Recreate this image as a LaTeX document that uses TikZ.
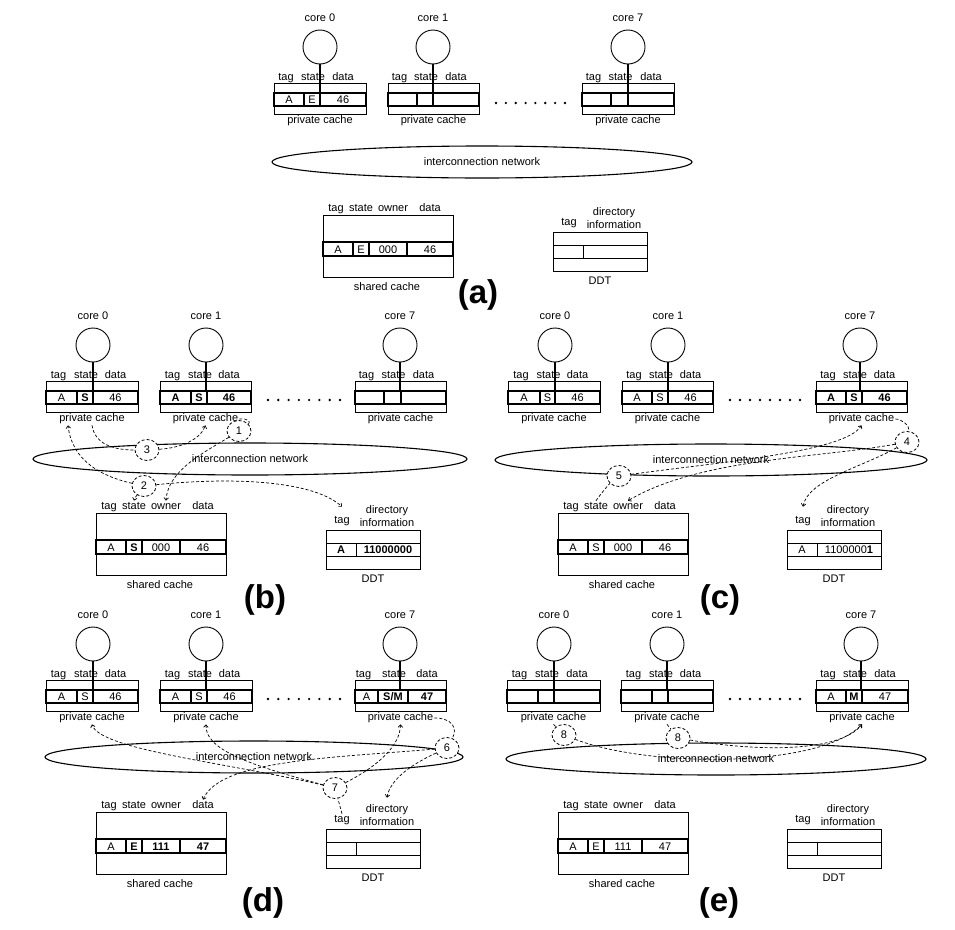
\documentclass[tikz,border=0pt]{standalone}
\usepackage{fontspec}
\setmainfont{Liberation Sans}
\usetikzlibrary{arrows.meta,shapes.geometric}
\newcommand\pcache[8]{%
 \node[lab] (#1c) at (#3,#4) {#2};
 \node[corec] (#1o) at (#3,#4+28) {};
 \draw[box] (#5,#4+64) rectangle (#6,#4+95);
 \draw[rowl] (#5,#4+74) rectangle (#6,#4+87);
 \draw[rowl] (#7,#4+74) -- (#7,#4+87) (#8,#4+74) -- (#8,#4+87);
 \node[lab] (#1t) at ({(#5+#7)/2-3},#4+59) {tag};
 \node[lab] (#1s) at ({(#7+#8)/2+1},#4+59) {state};
 \node[lab] (#1d) at ({(#8+#6)/2},#4+59) {data};
 \draw[corel] (#1o.south) -- (#3,#4+74);
 \node[lab] (#1pc) at ({(#5+#6)/2},#4+102) {private cache};
}
\newcommand\pcells[8]{%
 \node[cell] at ({(#1+#2)/2},#5) {#6};
 \node[cell] at ({(#2+#3)/2},#5) {#7};
 \node[cell] at ({(#3+#4)/2},#5) {#8};
}
\newcommand\scache[3]{%
 \node[lab] (#1stag) at (#2+13,#3+190) {tag};
 \node[lab] (#1state) at (#2+38,#3+190) {state};
 \node[lab] (#1owner) at (#2+70,#3+190) {owner};
 \node[lab] (#1data) at (#2+107,#3+190) {data};
 \draw[box] (#2,#3+196) rectangle (#2+130,#3+258);
 \draw[rowl] (#2,#3+223) rectangle (#2+130,#3+237);
 \draw[rowl] (#2+30,#3+223) -- (#2+30,#3+237) (#2+46,#3+223) -- (#2+46,#3+237) (#2+84,#3+223) -- (#2+84,#3+237);
 \node[lab] (#1sc) at (#2+64,#3+269) {shared cache};
}
\newcommand\scells[6]{%
 \node[cell] at (#1+15,#2+230) {#3};
 \node[cell] at (#1+38,#2+230) {#4};
 \node[cell] at (#1+65,#2+230) {#5};
 \node[cell] at (#1+107,#2+230) {#6};
}
\newcommand\ddt[3]{%
 \node[lab] (#1tag) at (#2+16,#3+204) {tag};
 \node[lab] (#1dir) at (#2+61,#3+194) {directory};
 \node[lab] (#1info) at (#2+61,#3+207) {information};
 \draw[box] (#2,#3+213) rectangle (#2+94,#3+252);
 \draw[box] (#2,#3+226) -- (#2+94,#3+226) (#2,#3+239) -- (#2+94,#3+239) (#2+30,#3+226) -- (#2+30,#3+239);
 \node[lab] (#1ddt) at (#2+47,#3+263) {DDT};
}
\newcommand\dcells[4]{%
 \node[cell] at (#1+15,#2+232.5) {#3};
 \node[cell] at (#1+62,#2+232.5) {#4};
}
\newcommand\dotrow[3]{%
 \foreach \i in {0,...,7} \fill ({#1+\i*(#2-#1)/7},#3) circle (1.3pt);
}
\begin{document}
\begin{tikzpicture}[x=1pt,y=-1pt,
 lab/.style={inner sep=1pt,text height=8pt,text depth=2.2pt,font=\fontsize{11}{12}\selectfont},
 cell/.style={inner sep=0pt,text height=8pt,text depth=0pt,font=\fontsize{11}{12}\selectfont},
 box/.style={draw,line width=0.8pt},
 rowl/.style={draw,line width=1.2pt},
 corec/.style={circle,draw,line width=0.9pt,minimum size=34pt,inner sep=0pt},
 corel/.style={line width=1.6pt},
 net/.style={ellipse,draw,line width=1.1pt,inner sep=0pt,minimum height=32pt,font=\fontsize{11}{12}\selectfont},
 dsh/.style={line width=0.7pt,dash pattern=on 3pt off 2pt},
 dar/.style={dsh,-{Straight Barb[length=2.5pt,width=4.5pt]}},
 num/.style={ellipse,draw,line width=0.8pt,dash pattern=on 3pt off 2pt,fill=white,minimum width=24pt,minimum height=21pt,inner sep=0pt,font=\fontsize{11}{12}\selectfont},
 plabel/.style={font=\bfseries\fontsize{33}{35}\selectfont,inner sep=0pt}
]
\useasboundingbox (0,0) rectangle (955,929);
% ---------------- (a)
\pcache{a0}{core 0}{320}{19}{274}{366}{304}{320}
\pcells{274}{304}{320}{366}{99.5}{A}{E}{46}
\pcache{a1}{core 1}{433}{19}{388}{479}{417}{433}
\pcache{a7}{core 7}{628}{19}{582}{674}{611}{628}
\dotrow{496}{565}{103}
\node[net,minimum width=420pt] (anet) at (482,162) {interconnection network};
\scache{a}{323}{19}
\scells{323}{19}{A}{E}{000}{46}
\ddt{a}{553}{19}
\node[plabel] (alab) at (478,295) {(a)};
% ---------------- (b)
\pcache{b0}{core 0}{93}{317}{46}{138}{77}{93}
\pcells{46}{77}{93}{138}{397.5}{A}{\textbf{S}}{46}
\pcache{b1}{core 1}{206}{317}{160}{251}{191}{207}
\pcells{160}{191}{207}{251}{397.5}{\textbf{A}}{\textbf{S}}{\textbf{46}}
\pcache{b7}{core 7}{400}{317}{355}{446}{384}{401}
\dotrow{268}{340}{400}
\node[net,minimum width=434pt] (bnet) at (250,459) {interconnection network};
\scache{b}{96}{317}
\scells{96}{317}{A}{\textbf{S}}{000}{46}
\ddt{b}{326}{317}
\dcells{326}{317}{\textbf{A}}{\textbf{11000000}}
\node[plabel] (blab) at (265,600) {(b)};
\node[num] (bn1) at (239,431) {1};
\node[num] (bn2) at (144,486) {2};
\node[num] (bn3) at (147,450) {3};
\draw[dsh] (b1pc.east) .. controls (248,418) and (251,422) .. (bn1);
\draw[dar] (bn1) .. controls (205,452) and (168,470) .. (bowner.north);
\draw[dar] (bn2) .. controls (100,476) and (72,460) .. ([xshift=-24pt]b0pc.south);
\draw[dar] (bn2) .. controls (138,494) and (135,497) .. (bstate.north);
\draw[dar] (bn2) .. controls (220,478) and (310,478) .. ([yshift=8pt]btag.north);
\draw[dsh] (b0pc.south) .. controls (95,445) and (115,450) .. (bn3);
\draw[dar] (bn3) .. controls (180,448) and (200,440) .. (b1pc.south);
% ---------------- (c)
\pcache{c0}{core 0}{555}{317}{508}{600}{540}{555}
\pcells{508}{540}{555}{600}{397.5}{A}{S}{46}
\pcache{c1}{core 1}{668}{317}{622}{713}{652}{668}
\pcells{622}{652}{668}{713}{397.5}{A}{S}{46}
\pcache{c7}{core 7}{860}{317}{816}{907}{846}{862}
\pcells{816}{846}{862}{907}{397.5}{\textbf{A}}{\textbf{S}}{\textbf{46}}
\dotrow{730}{800}{400}
\node[net,minimum width=432pt] (cnet) at (711,460) {interconnection network};
\scache{c}{558}{317}
\scells{558}{317}{A}{S}{000}{46}
\ddt{c}{787}{317}
\dcells{787}{317}{A}{1100000\textbf{1}}
\node[plabel] (clab) at (720,600) {(c)};
\node[num] (cn4) at (907,442) {4};
\node[num] (cn5) at (619,476) {5};
\draw[dsh] (c7pc.east) .. controls (902,419) and (910,426) .. (cn4);
\draw[dar] (cn4) .. controls (860,468) and (808,480) .. ([yshift=8pt]ctag.north);
\draw[dar] (cn4) .. controls (820,458) and (700,458) .. (cowner.north);
\draw[dsh] (cstate.north) .. controls (600,495) and (608,485) .. (cn5);
\draw[dar] (cn5) .. controls (720,462) and (845,452) .. (c7pc.south);
% ---------------- (d)
\pcache{d0}{core 0}{93}{616}{46}{138}{77}{93}
\pcells{46}{77}{93}{138}{696.5}{A}{S}{46}
\pcache{d1}{core 1}{206}{616}{160}{252}{191}{207}
\pcells{160}{191}{207}{252}{696.5}{A}{S}{46}
\pcache{d7}{core 7}{400}{616}{355}{446}{378}{408}
\pcells{355}{378}{408}{446}{696.5}{A}{\textbf{S/M}}{\textbf{47}}
\dotrow{268}{340}{699}
\node[net,minimum width=418pt] (dnet) at (254,757) {interconnection network};
\scache{d}{96}{616}
\scells{96}{616}{A}{\textbf{E}}{\textbf{111}}{\textbf{47}}
\ddt{d}{326}{616}
\node[plabel] (dlab) at (263,903) {(d)};
\node[num] (dn6) at (447,748) {6};
\node[num] (dn7) at (335,788) {7};
\draw[dsh] (d7pc.east) .. controls (452,718) and (458,728) .. (dn6);
\draw[dar] (dn6) .. controls (330,758) and (220,760) .. (ddata.north);
\draw[dar] (dn6) .. controls (410,765) and (390,780) .. ([yshift=6pt]ddir.north);
\draw[dar] (dn7) .. controls (230,763) and (100,750) .. (d0pc.south);
\draw[dar] (dn7) .. controls (250,765) and (205,750) .. (d1pc.south);
\draw[dar] (dn7) .. controls (380,765) and (400,745) .. (d7pc.south);
\draw[dsh] (dtag.north) -- (dn7);
% ---------------- (e)
\pcache{e0}{core 0}{554}{616}{507}{600}{538}{554}
\pcache{e1}{core 1}{667}{616}{621}{713}{652}{668}
\pcache{e7}{core 7}{861}{616}{816}{908}{846}{862}
\pcells{816}{846}{862}{908}{696.5}{A}{\textbf{M}}{47}
\dotrow{730}{800}{699}
\node[net,minimum width=420pt] (enet) at (716,759) {interconnection network};
\scache{e}{558}{616}
\scells{558}{616}{A}{E}{111}{47}
\ddt{e}{787}{616}
\node[plabel] (elab) at (719,903) {(e)};
\node[num] (en8a) at (564,735) {8};
\node[num] (en8b) at (678,738) {8};
\draw[dsh] (e0pc.south) -- (en8a);
\draw[dsh] (e1pc.south) -- (en8b);
\draw[dar] (en8a) .. controls (650,768) and (820,768) .. (e7pc.south);
\draw[dar] (en8b) .. controls (760,752) and (840,752) .. (e7pc.south);
\end{tikzpicture}
\end{document}
